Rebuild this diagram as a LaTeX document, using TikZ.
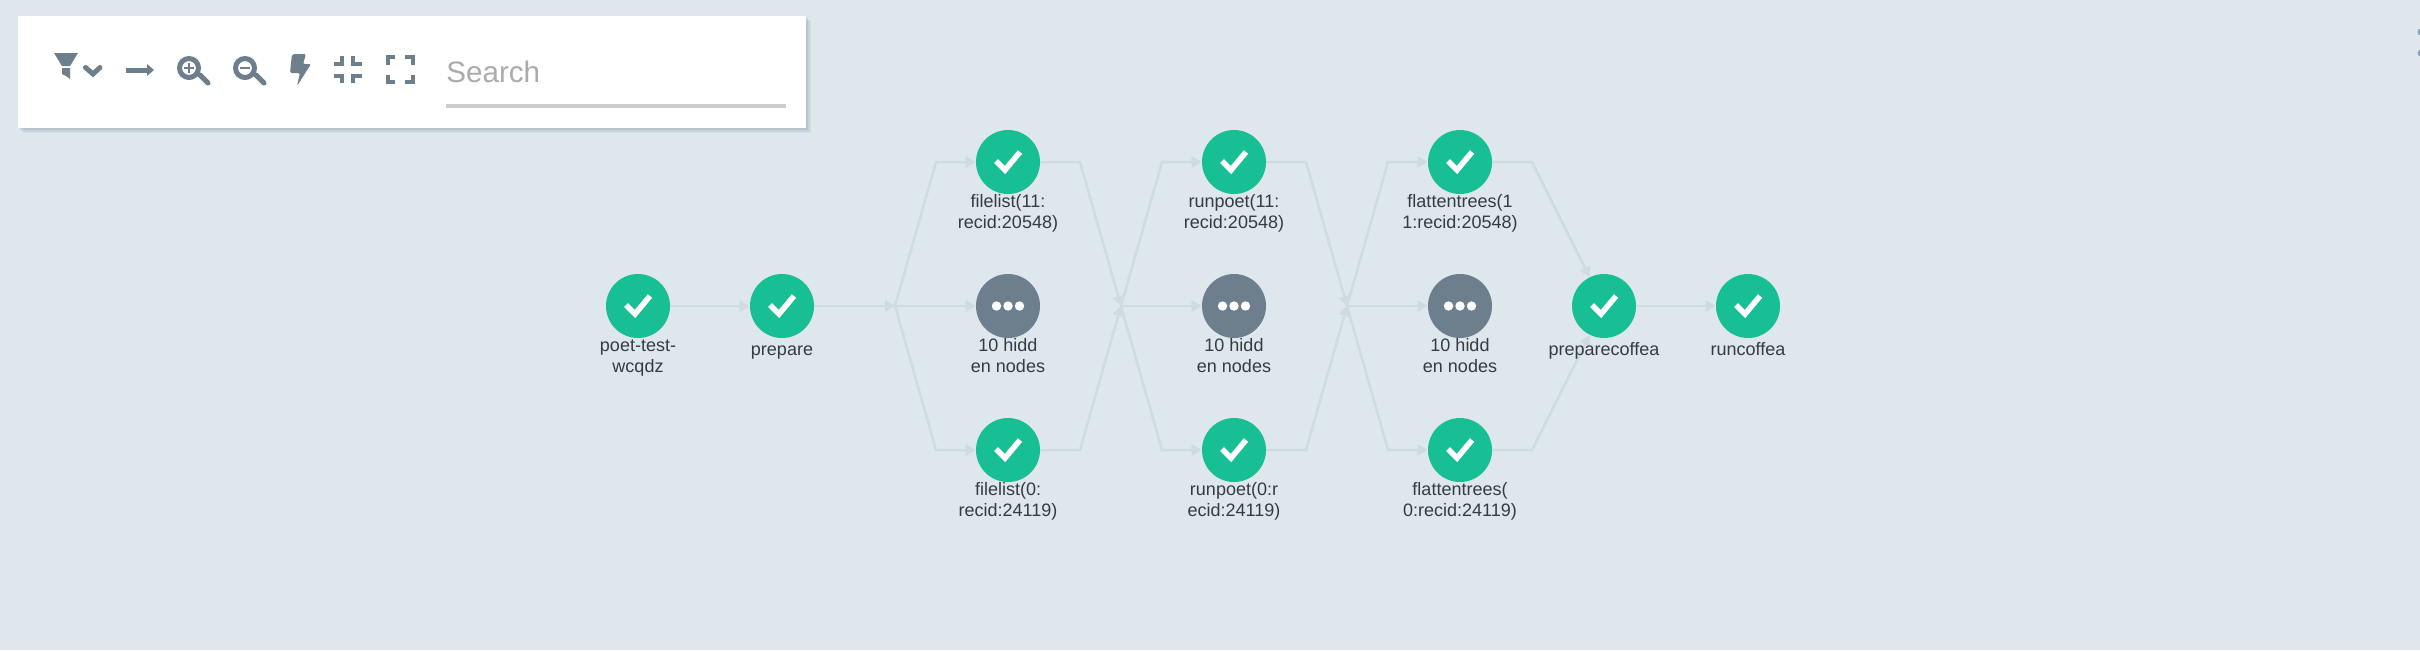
\documentclass[tikz,border=0pt]{standalone}
\usepackage{fontspec}
\setmainfont{Liberation Sans}
\usetikzlibrary{arrows.meta,calc,backgrounds}
\definecolor{bgcol}{HTML}{DEE7EB}
\definecolor{okcol}{HTML}{18BE94}
\definecolor{hidcol}{HTML}{6D7F8C}
\definecolor{linkcol}{HTML}{CFDAE2}
\definecolor{txtcol}{HTML}{333B47}
\definecolor{shadecol}{HTML}{8FA5B6}
\tikzset{
  oknode/.style={circle,fill=okcol,minimum size=32pt,inner sep=0pt},
  hidnode/.style={circle,fill=hidcol,minimum size=32pt,inner sep=0pt},
  lab/.style={font=\fontsize{9}{10.5}\selectfont,text=txtcol,align=center,inner sep=0pt,anchor=north},
  link/.style={draw=linkcol,line width=1.25pt,-{Triangle[length=5pt,width=5.5pt]}},
  tick/.style={draw=white,line width=2.8pt},
  tool/.style={draw=hidcol,line width=2pt},
  toolfill/.style={fill=hidcol}
}
\newcommand{\oknode}[4][30.3]{\node[oknode] (#2) at #3 {};
\draw[tick] ($(#2)+(-12,-1)$) -- ($(#2)+(-3,8)$) -- ($(#2)+(12,-10)$);
\node[lab] (#2lab) at ($(#2)+(0,#1)$) {\strut #4};}
\newcommand{\hidnode}[2]{\node[hidnode] (#1) at #2 {};
\foreach \dx in {-11.5,0,11.5} \fill[white] ($(#1)+(\dx,0)$) circle [radius=4.7];
\node[lab] (#1lab) at ($(#1)+(0,30.3)$) {\strut 10 hidd\\en nodes};}
\begin{document}
\begin{tikzpicture}[x=0.5pt,y=-0.5pt]
\useasboundingbox (0,0) rectangle (2420,650);

% toolbar
\foreach \off/\op in {5/.12,3.5/.18,2/.3}
  \fill[shadecol,opacity=\op] (18+\off,16+\off) rectangle (806+\off,128+\off);
\fill[white] (18,16) rectangle (806,128);
\fill[toolfill] (54,53) -- (78,53) -- (70,66) -- (62,66) -- cycle;
\fill[toolfill] (62,68) -- (70,68) -- (70,79) -- (66,76) -- (62,74) -- cycle;
\draw[tool,line width=2.5pt,line cap=round] (85.5,67.5) -- (93,74) -- (100,67.5);
\draw[tool,line width=2.5pt] (126,70) -- (149,70);
\fill[toolfill] (147,64) -- (154,70) -- (147,76) -- cycle;
\draw[tool,line width=2.5pt] (189,68) circle [radius=9.5];
\draw[tool,line width=2.5pt,line cap=round] (200,75) -- (208,83);
\draw[tool,line width=1.25pt] (184,68) -- (194,68) (189,63) -- (189,73);
\draw[tool,line width=2.5pt] (245,68) circle [radius=9.5];
\draw[tool,line width=2.5pt,line cap=round] (256,75) -- (264,83);
\draw[tool,line width=1.25pt] (240,68) -- (250,68);
\fill[toolfill,rounded corners=1pt] (292,54) -- (306,54) -- (303,64) -- (311,64) -- (297,86) -- (300,73) -- (290,73) -- cycle;
\draw[tool] (342,56) -- (342,64) -- (334,64) (353,56) -- (353,64) -- (362,64)
  (342,83) -- (342,76) -- (334,76) (353,83) -- (353,76) -- (362,76);
\draw[tool] (387.5,65) -- (387.5,57) -- (395,57) (412.5,65) -- (412.5,57) -- (405,57)
  (387.5,75) -- (387.5,82) -- (395,82) (412.5,75) -- (412.5,82) -- (405,82);
\node[font=\fontsize{14.8}{16}\selectfont,text=black!33,anchor=west,inner sep=0pt] (search) at (446,72) {Search};
\fill[black!20] (446,104) rectangle (786,108);

% nodes
\oknode{poet}{(638,306)}{poet-test-\\wcqdz}
\oknode[34.3]{prepare}{(782,306)}{prepare}
\oknode{fileA}{(1008,162)}{filelist(11:\\recid:20548)}
\hidnode{fileB}{(1008,306)}
\oknode{fileC}{(1008,450)}{filelist(0:\\recid:24119)}
\oknode{runA}{(1234,162)}{runpoet(11:\\recid:20548)}
\hidnode{runB}{(1234,306)}
\oknode{runC}{(1234,450)}{runpoet(0:r\\ecid:24119)}
\oknode{flatA}{(1460,162)}{flattentrees(1\\1:recid:20548)}
\hidnode{flatB}{(1460,306)}
\oknode{flatC}{(1460,450)}{flattentrees(\\0:recid:24119)}
\oknode[34.3]{prepcof}{(1604,306)}{preparecoffea}
\oknode[34.3]{runcof}{(1748,306)}{runcoffea}

% junctions
\coordinate (juncA) at (895,306);
\coordinate (juncB) at (1121,306);
\coordinate (juncC) at (1347,306);
\coordinate (cornAa) at (936,162);
\coordinate (cornAc) at (936,450);
\coordinate (cornBa) at (1080,162);
\coordinate (cornBc) at (1080,450);
\coordinate (cornCa) at (1162,162);
\coordinate (cornCc) at (1162,450);
\coordinate (cornDa) at (1306,162);
\coordinate (cornDc) at (1306,450);
\coordinate (cornEa) at (1388,162);
\coordinate (cornEc) at (1388,450);
\coordinate (cornFa) at (1532,162);
\coordinate (cornFc) at (1532,450);

% connectors
\begin{pgfonlayer}{background}
\fill[bgcol] (0,0) rectangle (2420,650);
\draw[link] (poet) -- (prepare);
\draw[link] (prepare) -- (juncA);
\draw[link] (juncA) -- (cornAa) -- (fileA);
\draw[link] (juncA) -- (fileB);
\draw[link] (juncA) -- (cornAc) -- (fileC);
\draw[link] (fileA) -- (cornBa) -- (juncB);
\draw[link] (fileC) -- (cornBc) -- (juncB);
\draw[link] (juncB) -- (cornCa) -- (runA);
\draw[link] (juncB) -- (runB);
\draw[link] (juncB) -- (cornCc) -- (runC);
\draw[link] (runA) -- (cornDa) -- (juncC);
\draw[link] (runC) -- (cornDc) -- (juncC);
\draw[link] (juncC) -- (cornEa) -- (flatA);
\draw[link] (juncC) -- (flatB);
\draw[link] (juncC) -- (cornEc) -- (flatC);
\draw[link] (flatA) -- (cornFa) -- (prepcof);
\draw[link] (flatC) -- (cornFc) -- (prepcof);
\draw[link] (prepcof) -- (runcof);
\end{pgfonlayer}

% cut off icon at the edge
\fill[shadecol] (2421,32) circle [radius=3.5];
\fill[shadecol] (2421,53) circle [radius=3.5];
\end{tikzpicture}
\end{document}
